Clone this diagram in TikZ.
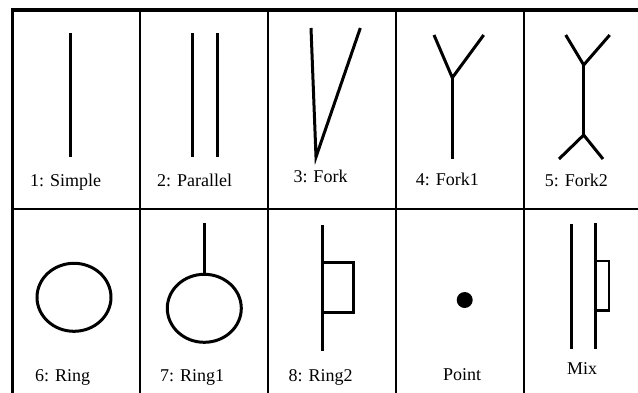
\documentclass[tikz,border=0pt]{standalone}
\usepackage{fontspec}
\setmainfont{Liberation Serif}

\begin{document}
\begin{tikzpicture}[x=1pt, y=-1pt,
    glyph/.style={line width=3pt},
    thin glyph/.style={line width=2.5pt},
    rule/.style={line width=1.5pt},
    frame/.style={line width=3.5pt},
    lab/.style={anchor=base west, inner sep=0pt, font=\fontsize{18}{21}\selectfont}]
  \clip (0,0) rectangle (638,392);
  % ---- table
  \draw[rule] (12.5,209) -- (660,209);
  \foreach \x in {140,268,396,524} \draw[rule] (\x,10) -- (\x,400);
  \draw[frame] (12.5,400) -- (12.5,10) -- (660,10);
  % ---- 1: Simple
  \begin{scope}[shift={(12.5,10)}]
    \draw[glyph] (57.5,23) -- (57.5,147);
    \node[lab] (simple) at (17.5,176) {1: Simple};
  \end{scope}
  % ---- 2: Parallel
  \begin{scope}[shift={(140,10)}]
    \draw[glyph] (52.7,23) -- (52.7,147);
    \draw[glyph] (77,23) -- (77,147);
    \node[lab] (parallel) at (17,176) {2: Parallel};
  \end{scope}
  % ---- 3: Fork
  \begin{scope}[shift={(268,10)}]
    \draw[glyph] (43,18) -- (48,147) -- (92.3,18);
    \node[lab] (fork) at (25.3,172.7) {3: Fork};
  \end{scope}
  % ---- 4: Fork1
  \begin{scope}[shift={(396,10)}]
    \draw[glyph] (56.3,149) -- (56.3,67.7);
    \draw[glyph] (38,25) -- (56.3,67.7) -- (87.7,25);
    \node[lab] (forkone) at (19.7,175.5) {4: Fork1};
  \end{scope}
  % ---- 5: Fork2
  \begin{scope}[shift={(524,10)}]
    \draw[glyph] (59.7,55) -- (59.7,125);
    \draw[glyph] (41.7,25) -- (59.7,55) -- (85.7,25);
    \draw[glyph] (35,149) -- (59.7,125) -- (79,149);
    \node[lab] (forktwo) at (20.7,176) {5: Fork2};
  \end{scope}
  % ---- 6: Ring
  \begin{scope}[shift={(12.5,209)}]
    \draw[glyph] (61.5,88.3) ellipse [x radius=37, y radius=34];
    \node[lab] (ring) at (22.5,172) {6: Ring};
  \end{scope}
  % ---- 7: Ring1
  \begin{scope}[shift={(140,209)}]
    \draw[glyph] (64.3,99.3) ellipse [x radius=37, y radius=34];
    \draw[glyph] (64.3,14.3) -- (64.3,65.3);
    \node[lab] (ringone) at (20,172) {7: Ring1};
  \end{scope}
  % ---- 8: Ring2
  \begin{scope}[shift={(268,209)}]
    \draw[glyph] (54.7,16) -- (54.7,141.7);
    \draw[glyph] (54.7,53.7) -| (85.7,103.7) -- (54.7,103.7);
    \node[lab] (ringtwo) at (20.3,172) {8: Ring2};
  \end{scope}
  % ---- Point
  \begin{scope}[shift={(396,209)}]
    \fill (68.7,91) circle [radius=8];
    \node[lab] (point) at (47,171) {Point};
  \end{scope}
  % ---- Mix
  \begin{scope}[shift={(524,209)}]
    \draw[glyph] (47.3,15) -- (47.3,140);
    \draw[glyph] (71.7,14.3) -- (71.7,140);
    \draw[thin glyph] (71.7,52) -| (85,101.7) -- (71.7,101.7);
    \node[lab] (mix) at (43,165) {Mix};
  \end{scope}
\end{tikzpicture}
\end{document}
